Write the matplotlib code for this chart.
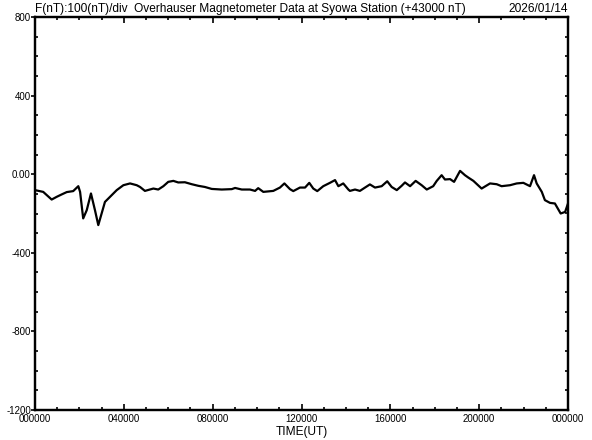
import matplotlib
matplotlib.use("Agg")
import matplotlib.pyplot as plt
from matplotlib.ticker import MultipleLocator, FixedLocator

plt.rcParams['font.family'] = ['Liberation Sans', 'DejaVu Sans']

# Time (hours UT) and F deviation (nT, relative to +43000 nT)
hours = [0.00, 0.37, 0.75, 0.98, 1.20, 1.43, 1.72, 1.95, 2.03, 2.17, 2.33, 2.52, 2.70, 2.85,
         3.00, 3.15, 3.38, 3.68, 3.98, 4.28, 4.58, 4.73, 4.95, 5.33, 5.55, 5.78, 6.00, 6.23,
         6.45, 6.75, 7.06, 7.35, 7.65, 7.96, 8.41, 8.86, 9.01, 9.31, 9.68, 9.91, 10.05, 10.28,
         10.73, 11.03, 11.23, 11.48, 11.63, 11.93, 12.16, 12.35, 12.53, 12.71, 12.98, 13.28,
         13.51, 13.66, 13.88, 14.11, 14.18, 14.41, 14.63, 14.86, 15.08, 15.31, 15.61, 15.86,
         16.06, 16.29, 16.51, 16.66, 16.89, 17.14, 17.41, 17.64, 17.93, 18.09, 18.31, 18.46,
         18.69, 18.87, 19.14, 19.36, 19.51, 19.74, 20.11, 20.49, 20.79, 21.01, 21.39, 21.69,
         21.99, 22.29, 22.47, 22.59, 22.82, 22.96, 23.19, 23.41, 23.67, 23.87, 24.00]
f_values = [-81, -90, -129, -115, -103, -91, -86, -61, -90, -225, -183, -98, -183, -259,
            -200, -141, -115, -81, -56, -47, -56, -65, -85, -73, -78, -61, -39, -34,
            -42, -41, -51, -59, -65, -75, -78, -76, -70, -78, -78, -85, -71, -90,
            -85, -68, -47, -76, -86, -68, -68, -44, -73, -86, -61, -44,
            -30, -61, -47, -78, -85, -78, -85, -68, -52, -68, -61, -36,
            -65, -81, -59, -42, -61, -34, -56, -78, -61, -34, -5, -27,
            -25, -39, 17, -5, -17, -34, -73, -47, -51, -61, -56, -47,
            -44, -61, -5, -47, -90, -132, -146, -149, -200, -192, -149]

x_tick_pos = [0, 4, 8, 12, 16, 20, 24]
x_tick_labels = ['000000', '040000', '080000', '120000', '160000', '200000', '000000']
y_tick_pos = [-1200, -800, -400, 0, 400, 800]
y_tick_labels = ['-1200', '-800', '-400', '0.00', '400', '800']

title_left = 'F(nT):100(nT)/div  Overhauser Magnetometer Data at Syowa Station (+43000 nT)'
title_right = '2026/01/14'
xlabel = 'TIME(UT)'

fig = plt.figure(figsize=(5.92, 4.40), dpi=100)
ax = fig.add_axes([35/592, 1 - 410/440, 533/592, 393/440])
ax.plot(hours, f_values, color='black', lw=1.6)
ax.set_xlim(0, 24)
ax.set_ylim(-1200, 800)

for s in ax.spines.values():
    s.set_linewidth(1.6)

ax.xaxis.set_major_locator(FixedLocator(x_tick_pos))
ax.set_xticklabels(x_tick_labels)
ax.xaxis.set_minor_locator(MultipleLocator(1))
ax.yaxis.set_major_locator(FixedLocator(y_tick_pos))
ax.set_yticklabels(y_tick_labels)
ax.yaxis.set_minor_locator(MultipleLocator(100))

ax.tick_params(axis='x', which='major', direction='in', top=True, length=4.5, width=1.2,
               labelsize=7, pad=3)
ax.tick_params(axis='x', which='minor', direction='in', top=True, length=2.2, width=1.2)
ax.tick_params(axis='y', which='major', direction='out', length=3, width=1.2,
               labelsize=7, pad=0)
ax.tick_params(axis='y', which='minor', direction='in', length=2.5, width=1.2)

ax2 = ax.twinx()
ax2.set_ylim(-1200, 800)
ax2.yaxis.set_major_locator(FixedLocator(y_tick_pos))
ax2.yaxis.set_minor_locator(MultipleLocator(100))
ax2.tick_params(axis='y', which='both', direction='in', length=2.5, width=1.2, labelright=False)
for s in ax2.spines.values():
    s.set_linewidth(1.6)

ax.text(0, 1.004, title_left, transform=ax.transAxes, ha='left', va='bottom', fontsize=8.6)
ax.text(1, 1.004, title_right, transform=ax.transAxes, ha='right', va='bottom', fontsize=8.6)
ax.set_xlabel(xlabel, fontsize=8.6, labelpad=1)

fig.savefig('out.png', dpi=100)
